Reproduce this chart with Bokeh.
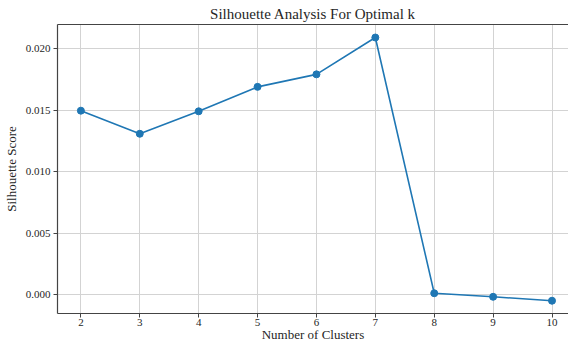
from bokeh.plotting import figure
from bokeh.models import FixedTicker, NumeralTickFormatter, LinearAxis, Range1d
from bokeh.embed import file_html
from bokeh.resources import INLINE

# Silhouette score for each candidate number of clusters
clusters = [2, 3, 4, 5, 6, 7, 8, 9, 10]
scores = [0.01497, 0.01309, 0.01492, 0.01691, 0.01793, 0.02093, 0.00010, -0.00019, -0.00051]

x_ticks = [2, 3, 4, 5, 6, 7, 8, 9, 10]
y_ticks = [0.0, 0.005, 0.010, 0.015, 0.020]

FONT = "Liberation Serif"
BLUE = "#1f77b4"
TEXT = "#262626"

p = figure(
    width=568, height=344,
    output_backend="svg", toolbar_location=None,
    x_range=Range1d(1.603, 10.28), y_range=Range1d(-0.00155, 0.02199),
    min_border_left=57, min_border_right=0, min_border_top=24, min_border_bottom=31,
)

p.title.text = "Silhouette Analysis For Optimal k"
p.title.text_font = FONT
p.title.text_font_size = "15px"
p.title.text_font_style = "normal"
p.title.text_color = TEXT
p.title.align = "center"
p.title.standoff = 6

p.outline_line_color = None
p.background_fill_color = "white"
p.border_fill_color = "white"

p.line(clusters, scores, line_color=BLUE, line_width=1.6)
p.scatter(clusters, scores, size=7, fill_color=BLUE, line_color=BLUE)

for ax in (p.xaxis[0], p.yaxis[0]):
    ax.axis_line_color = "#444444"
    ax.axis_line_width = 1.2
    ax.major_tick_line_color = "#444444"
    ax.major_tick_in = 0
    ax.major_tick_out = 4
    ax.minor_tick_line_color = None
    ax.major_label_text_font = FONT
    ax.major_label_text_font_size = "11px"
    ax.major_label_text_color = TEXT
    ax.axis_label_text_font = FONT
    ax.axis_label_text_font_size = "13px"
    ax.axis_label_text_font_style = "normal"
    ax.axis_label_text_color = TEXT
    ax.major_label_standoff = 3
    ax.axis_label_standoff = 4

p.xaxis[0].major_label_standoff = 1
p.xaxis[0].axis_label_standoff = -2

p.xaxis[0].ticker = FixedTicker(ticks=x_ticks)
p.yaxis[0].ticker = FixedTicker(ticks=y_ticks)
p.yaxis[0].formatter = NumeralTickFormatter(format="0.000")
p.xaxis[0].axis_label = "Number of Clusters"
p.yaxis[0].axis_label = "Silhouette Score"

# top spine: a bare axis with no ticks or labels
top = LinearAxis(ticker=FixedTicker(ticks=[]), axis_line_color="#444444", axis_line_width=1.2,
                 major_tick_line_color=None, minor_tick_line_color=None,
                 major_label_text_font_size="0px")
p.add_layout(top, "above")

p.xgrid.ticker = FixedTicker(ticks=x_ticks)
p.ygrid.ticker = FixedTicker(ticks=y_ticks)
p.grid.grid_line_color = "#d3d3d3"
p.grid.grid_line_width = 1

open("out.html", "w").write(file_html(p, INLINE))
